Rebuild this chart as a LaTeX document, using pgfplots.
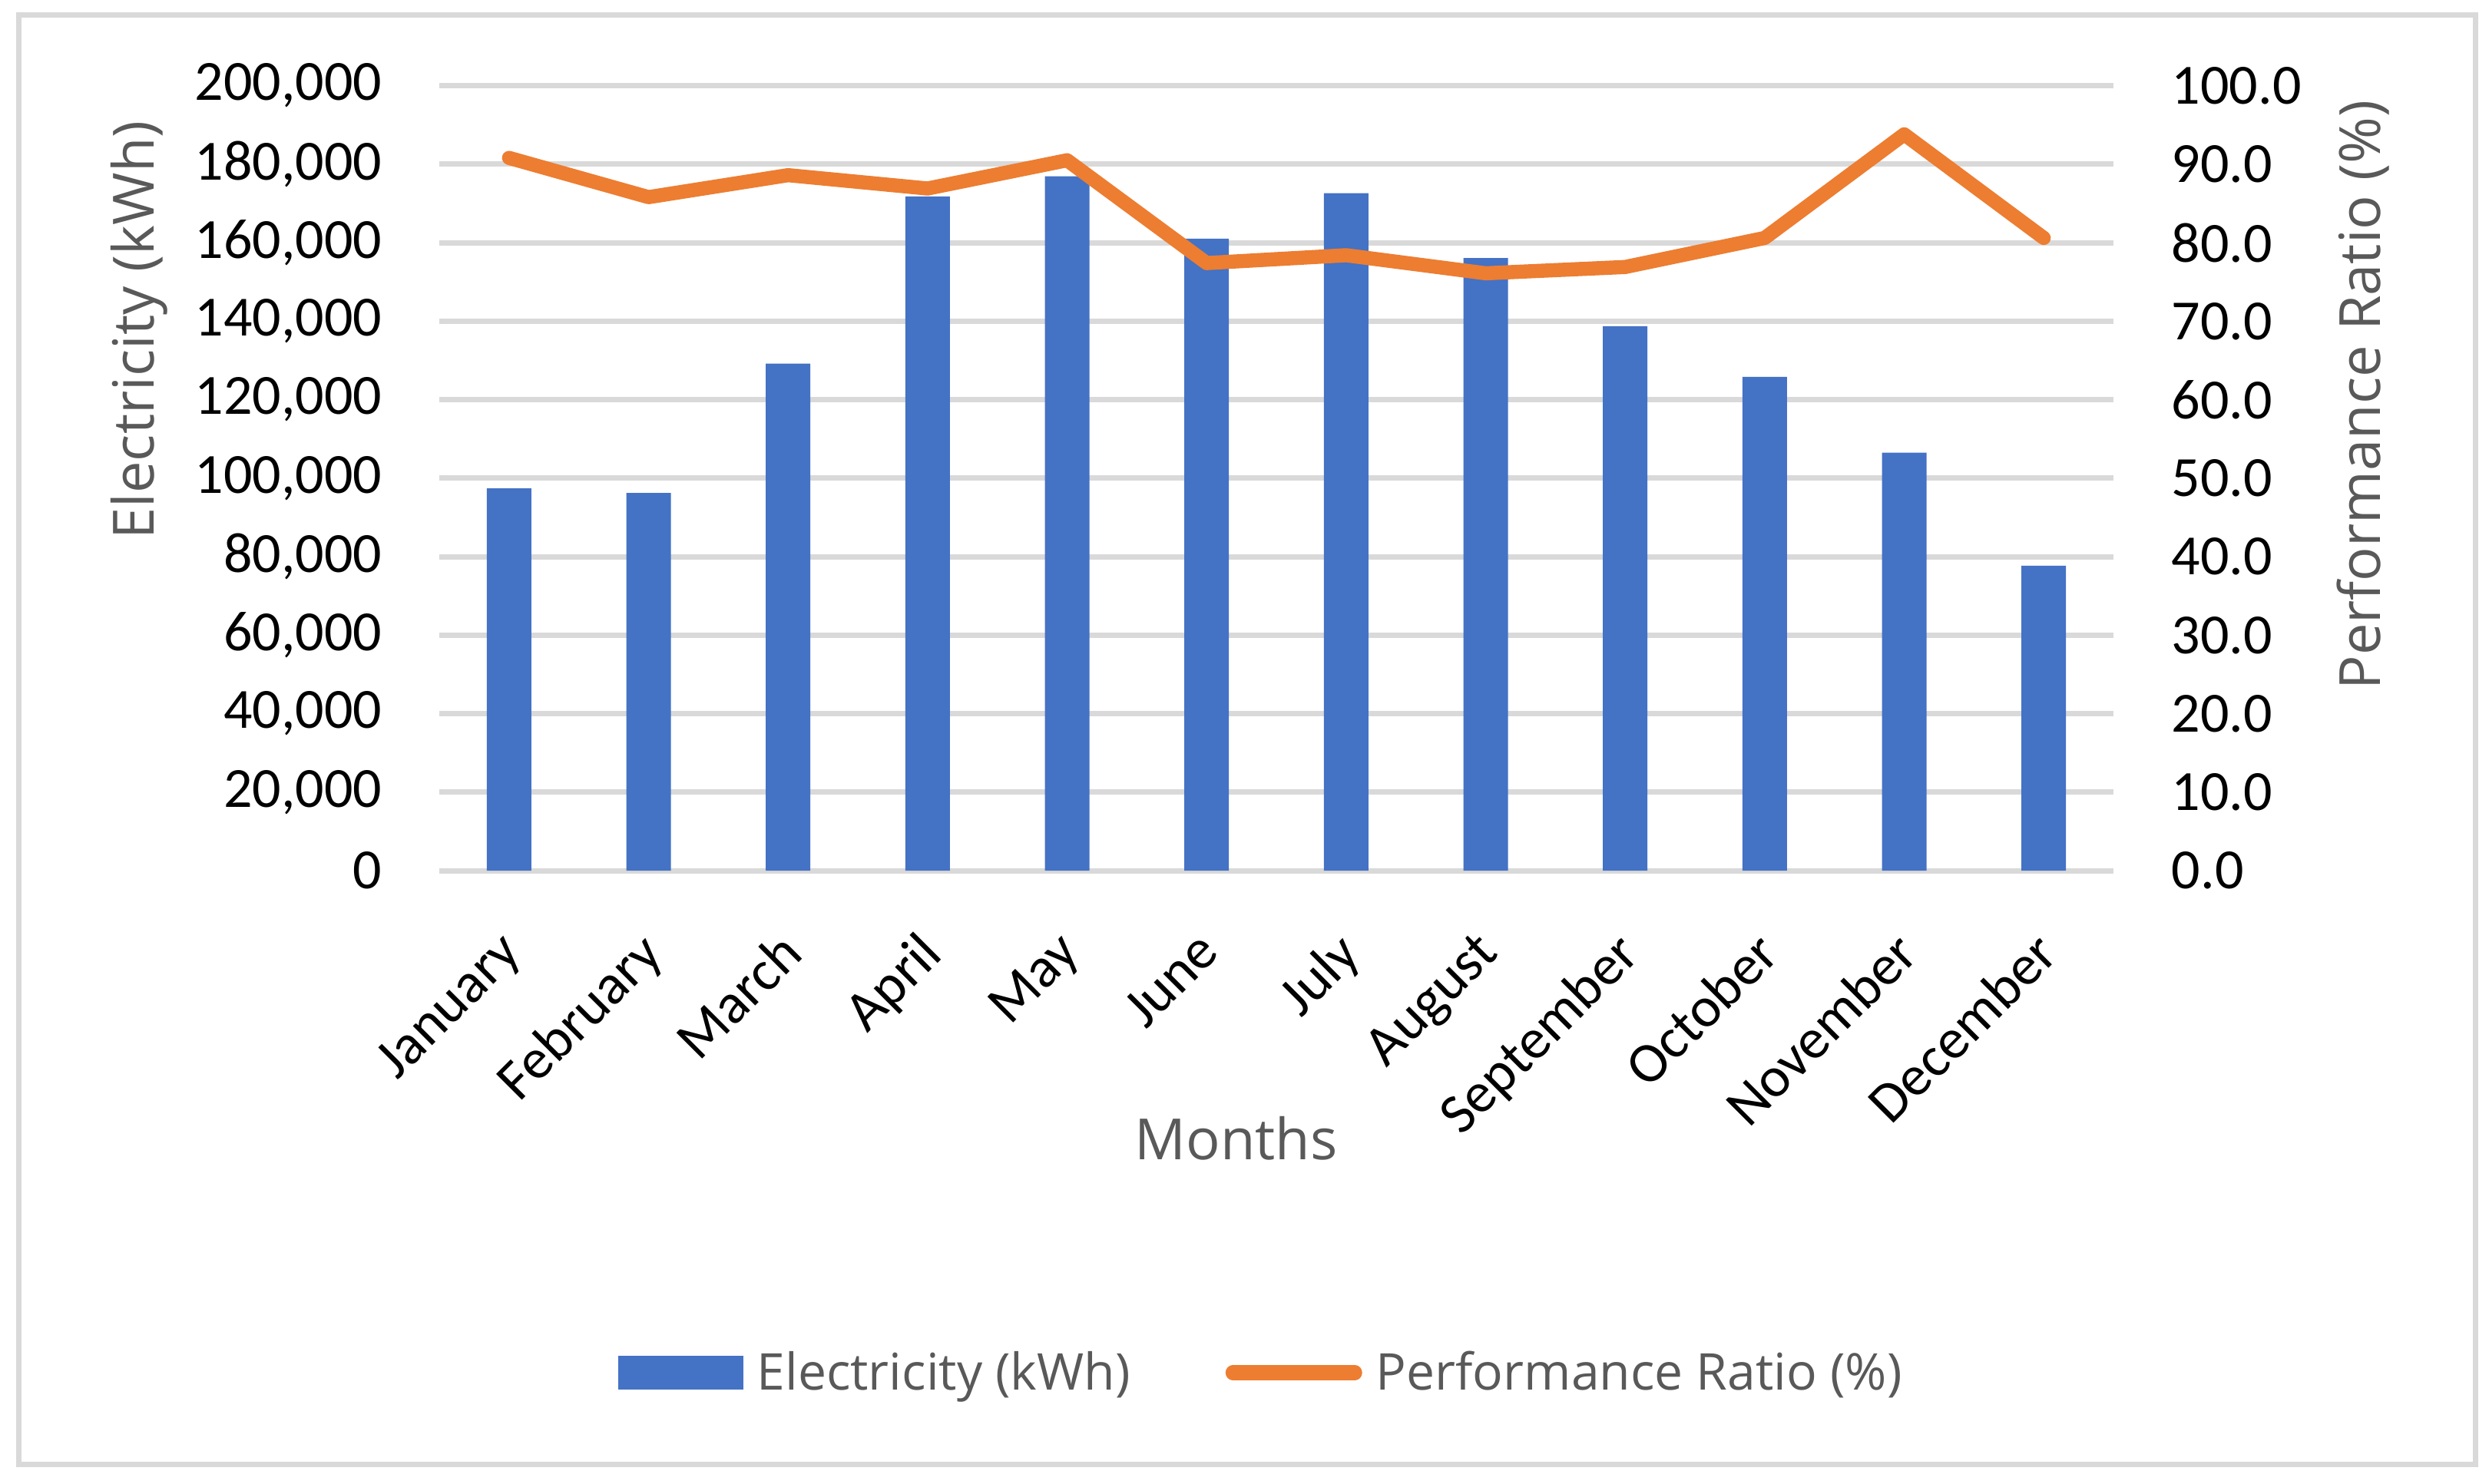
\documentclass[border=0pt]{standalone}
\usepackage{fontspec}
\setmainfont{Carlito}
\newfontfamily\titlefont{Open Sans}
\usepackage{pgfplots}
\pgfplotsset{compat=1.18}
\definecolor{barblue}{HTML}{4472C4}
\definecolor{prorange}{HTML}{ED7D31}
\definecolor{gridgray}{HTML}{D9D9D9}
\definecolor{titlegray}{HTML}{595959}

\pgfplotsset{
  base/.style={
    at={(143pt,199.5pt)}, anchor=south west,
    scale only axis, width=545pt, height=255.6pt,
    xmin=-0.5, xmax=11.5,
    clip=false,
    axis line style={draw=none},
    tick style={draw=none},
    /pgf/number format/assume math mode=true,
    ticklabel style={font=\fontsize{18.5}{22}\selectfont, text=black},
  }
}

\begin{document}
\begin{tikzpicture}
\path[use as bounding box] (0,0) rectangle (810.25pt,483pt);
\draw[gridgray, line width=1.75pt] (6pt,6.25pt) rectangle (805.75pt,478pt);

\begin{axis}[base,
  ymin=0, ymax=200000,
  ytick={0,20000,40000,60000,80000,100000,120000,140000,160000,180000,200000},
  scaled y ticks=false,
  yticklabel style={/pgf/number format/fixed, /pgf/number format/1000 sep={,}, anchor=east, inner sep=0pt, xshift=-18.5pt},
  ymajorgrids, major grid style={draw=gridgray, line width=1.75pt},
  xtick={0,1,2,3,4,5,6,7,8,9,10,11},
  xticklabels={January,February,March,April,May,June,July,August,September,October,November,December},
  xticklabel style={xshift=-3.7pt, yshift=-18.75pt, rotate=45, anchor=north east, inner sep=0pt},
  xlabel={Months},
  ylabel={Electricity (kWh)},
  every axis x label/.style={at={(axis description cs:0.476,-0.3678)}, anchor=base, font=\titlefont\fontsize{18.5}{22}\selectfont, text=titlegray},
  every axis y label/.style={at={(axis description cs:-0.1706,0.6886)}, rotate=90, anchor=base, font=\titlefont\fontsize{18.5}{22}\selectfont, text=titlegray},
]
\addplot[ybar, bar width=14.5pt, bar shift=0pt, fill=barblue, draw=none] coordinates {
  (0,97400) (1,96200) (2,129200) (3,171800) (4,176900) (5,161000)
  (6,172600) (7,156100) (8,138700) (9,125800) (10,106500) (11,77700)
};
\end{axis}

\begin{axis}[base,
  ymin=0, ymax=100,
  ytick={0,10,20,30,40,50,60,70,80,90,100},
  yticklabel pos=right, ytick pos=right,
  yticklabel style={/pgf/number format/fixed, /pgf/number format/fixed zerofill, /pgf/number format/precision=1, anchor=west, inner sep=0pt, xshift=18.75pt},
  hide x axis,
  ylabel={Performance Ratio (\%)},
  every axis y label/.style={at={(axis description cs:1.1596,0.606)}, rotate=90, anchor=base, font=\titlefont\fontsize{18.5}{22}\selectfont, text=titlegray},
  legend columns=2,
  legend style={draw=none, fill=none, at={(0.1069,-0.6397)}, anchor=west, inner sep=0pt, outer sep=0pt,
    font=\titlefont\fontsize{16.5}{20}\selectfont, text=titlegray,
    nodes={inner sep=0pt},
    /tikz/every odd column/.append style={column sep=4.5pt},
    /tikz/every even column/.append style={column sep=31pt}},
]
\addlegendimage{legend image code/.code={\fill[barblue] (0pt,-5.3pt) rectangle (40.3pt,5.3pt);}}
\addlegendentry{Electricity (kWh)}
\addplot[prorange, line width=4.6pt, line join=round, line cap=round,
  legend image code/.code={\path[draw=none, fill=none] (0pt,-5pt) rectangle (43pt,5pt); \draw[prorange, line width=4.8pt, line cap=round] (2.4pt,0pt) -- (42.1pt,0pt);}] coordinates {
  (0,90.8) (1,85.8) (2,88.6) (3,86.9) (4,90.5) (5,77.4)
  (6,78.4) (7,76.1) (8,76.9) (9,80.6) (10,93.8) (11,80.6)
};
\addlegendentry{Performance Ratio (\%)}
\end{axis}
\end{tikzpicture}
\end{document}
